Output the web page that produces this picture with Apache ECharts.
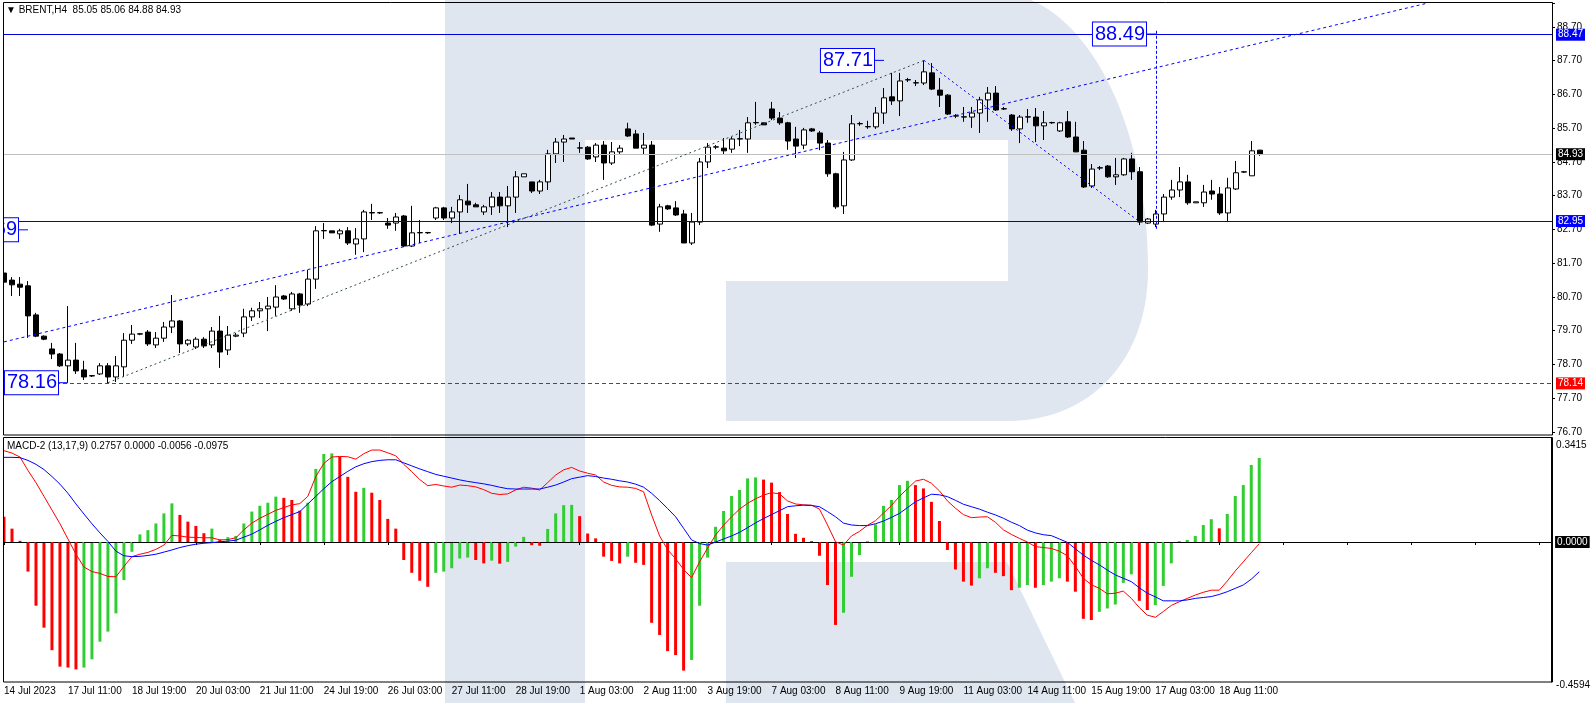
<!DOCTYPE html>
<html><head><meta charset="utf-8">
<script src="https://cdn.jsdelivr.net/npm/echarts/dist/echarts.min.js"></script>
<style>html,body{margin:0;padding:0;background:#fff;}#c{width:1593px;height:703px;}</style>
</head><body><div id="c"></div>
<script>
// ---------- DATA ----------
const opens = [81.41,81.20,81.08,81.03,80.17,79.54,79.16,79.01,78.66,78.83,
78.54,78.36,78.42,78.66,78.33,78.63,79.42,79.60,79.66,79.28,
79.48,79.81,79.99,79.31,79.22,79.45,79.28,79.69,79.13,79.54,
79.63,80.11,80.29,80.35,80.40,80.73,80.35,80.79,80.49,81.23,
82.66,82.66,82.57,82.66,82.27,82.42,83.20,83.19,82.89,82.89,
83.10,82.21,82.60,82.60,83.04,83.34,83.04,83.22,83.54,83.43,
83.22,83.37,83.66,83.40,83.66,84.26,84.11,83.84,84.11,84.94,
85.29,85.41,85.11,85.14,84.85,85.20,84.67,85.00,85.68,85.53,
85.11,85.20,82.86,83.40,83.34,83.16,82.30,82.92,84.70,85.14,
85.11,85.08,85.38,85.38,85.86,85.86,86.27,86.00,85.86,85.38,
85.20,85.68,85.56,85.26,84.35,83.40,84.76,85.83,85.74,85.74,
86.15,86.63,86.51,87.13,87.04,87.04,87.34,86.83,86.68,86.06,
86.03,86.03,86.15,86.54,86.74,86.27,86.09,85.68,86.03,86.03,
85.77,85.86,85.62,85.89,85.44,85.05,83.99,84.52,84.58,84.26,
84.32,84.79,84.41,82.89,82.86,83.16,83.66,83.87,84.11,83.49,
83.49,83.84,83.75,83.19,83.90,84.40,84.29,85.05];
const closes = [81.14,81.06,80.99,80.14,79.54,79.45,79.01,78.66,78.83,78.51,
78.33,78.37,78.66,78.33,78.66,79.42,79.60,79.61,79.31,79.48,
79.81,79.99,79.31,79.42,79.45,79.25,79.69,79.07,79.57,79.57,
80.11,80.29,80.35,80.43,80.70,80.64,80.79,80.46,81.23,82.66,
82.67,82.60,82.66,82.30,82.42,83.22,83.19,83.20,82.83,83.07,
82.21,82.60,82.61,82.61,83.34,83.04,83.22,83.58,83.43,83.37,
83.37,83.66,83.40,83.66,84.26,84.35,83.84,84.11,84.94,85.29,
85.38,85.38,85.12,84.79,85.20,84.67,85.00,85.11,85.47,85.11,
85.20,82.83,83.37,83.31,83.13,82.30,82.92,84.70,85.14,85.15,
85.03,85.38,85.39,85.86,85.87,85.80,86.00,85.86,85.32,85.17,
85.65,85.62,85.26,84.35,83.37,84.76,85.83,85.84,85.75,86.15,
86.60,86.51,87.10,87.14,87.05,87.37,86.86,86.68,86.12,86.07,
86.04,86.15,86.54,86.74,86.24,86.28,85.68,86.03,86.04,85.77,
85.86,85.87,85.86,85.44,85.00,83.96,84.49,84.53,84.26,84.32,
84.79,84.41,82.92,83.01,83.16,83.66,83.87,84.11,83.49,83.52,
83.81,83.75,83.19,83.93,84.38,84.41,85.03,84.93];
const lows = [81.10,80.73,80.73,79.49,79.51,79.42,78.86,78.63,78.16,78.42,
78.24,78.33,78.39,78.14,78.18,78.33,79.31,79.57,79.25,79.19,
79.37,79.63,79.04,79.25,79.16,79.19,79.19,78.60,78.98,79.51,
79.51,79.99,80.08,79.69,80.14,80.61,80.29,80.23,80.43,80.94,
82.42,82.60,82.42,82.24,81.95,82.03,82.98,83.16,82.72,82.66,
82.18,82.18,82.30,82.57,82.98,82.98,82.89,82.57,83.19,83.37,
83.13,83.13,83.19,82.77,83.19,84.26,83.78,83.75,83.87,84.67,
84.70,85.38,84.97,84.76,84.70,84.17,84.61,84.94,85.44,85.11,
84.91,82.80,82.63,83.28,83.10,82.30,82.24,82.83,84.52,85.08,
84.91,84.97,85.17,84.97,85.80,85.80,85.94,85.80,85.06,84.82,
85.08,85.59,85.05,84.26,83.31,83.16,84.73,85.77,85.68,85.68,
85.83,86.39,86.06,87.07,86.95,86.98,86.83,86.33,86.09,86.00,
85.89,85.71,85.56,85.89,86.21,86.24,85.62,85.26,85.86,85.29,
85.35,85.83,85.59,85.41,84.99,83.93,83.93,84.46,84.23,84.02,
84.29,84.17,82.83,82.86,82.77,82.92,83.58,83.66,83.43,83.49,
83.37,83.58,83.13,82.92,83.87,84.38,84.29,84.88];
const highs = [81.45,81.29,81.29,81.17,80.23,79.56,79.34,79.04,80.43,79.34,
78.81,78.39,78.74,78.74,78.95,79.63,79.87,79.63,79.72,79.66,
79.96,80.76,80.02,79.45,79.51,79.51,79.81,80.14,79.84,79.63,
80.35,80.38,80.55,80.70,81.05,80.76,80.85,80.82,81.50,82.80,
82.89,82.66,82.72,82.77,82.74,83.28,83.46,83.22,83.04,83.19,
83.13,83.40,82.98,82.63,83.37,83.37,83.37,83.72,84.05,83.49,
83.43,83.81,83.81,83.99,84.43,84.35,84.11,84.17,85.06,85.41,
85.50,85.41,85.29,85.17,85.26,85.32,85.29,85.20,85.86,85.65,
85.56,85.32,83.46,83.43,83.54,83.28,83.19,84.82,85.26,85.20,
85.41,85.44,85.65,86.03,86.48,85.86,86.48,86.18,85.89,85.74,
85.71,85.71,85.62,85.35,84.38,85.00,86.09,85.89,85.92,86.33,
86.89,87.34,87.34,87.19,87.13,87.71,87.63,87.19,86.71,86.12,
86.33,86.33,86.63,86.92,86.95,86.33,86.12,86.09,86.27,86.30,
86.21,85.89,85.89,86.21,85.89,85.32,84.64,84.58,84.61,84.82,
84.82,84.97,84.55,83.04,83.28,83.75,84.17,84.55,84.32,83.52,
84.02,84.17,83.96,84.23,84.73,84.43,85.32,85.06];

const histValues = [0.083,0.044,0.004,-0.097,-0.209,-0.281,-0.355,-0.409,-0.412,-0.418,
-0.412,-0.385,-0.327,-0.294,-0.234,-0.125,-0.032,0.025,0.039,0.061,
0.094,0.127,0.089,0.067,0.053,0.029,0.044,0.008,0.016,0.020,
0.061,0.100,0.119,0.129,0.149,0.145,0.138,0.103,0.129,0.240,
0.289,0.291,0.280,0.214,0.165,0.178,0.162,0.138,0.076,0.044,
-0.059,-0.101,-0.127,-0.147,-0.101,-0.097,-0.086,-0.054,-0.051,-0.059,
-0.070,-0.061,-0.071,-0.065,-0.015,0.017,-0.010,-0.012,0.043,0.094,
0.121,0.122,0.085,0.028,0.012,-0.048,-0.062,-0.070,-0.048,-0.068,
-0.075,-0.265,-0.305,-0.358,-0.371,-0.422,-0.387,-0.209,-0.051,0.050,
0.102,0.151,0.171,0.209,0.212,0.205,0.195,0.164,0.092,0.027,
0.014,0.003,-0.045,-0.141,-0.272,-0.232,-0.114,-0.043,0.003,0.058,
0.119,0.138,0.187,0.201,0.187,0.176,0.132,0.069,-0.026,-0.090,
-0.130,-0.143,-0.119,-0.086,-0.101,-0.112,-0.158,-0.150,-0.141,-0.150,
-0.141,-0.130,-0.119,-0.130,-0.163,-0.252,-0.256,-0.229,-0.218,-0.205,
-0.134,-0.106,-0.193,-0.223,-0.207,-0.144,-0.070,0.003,0.007,0.020,
0.056,0.075,0.045,0.092,0.151,0.187,0.253,0.2757];
const macdRed = [0.300,0.292,0.279,0.235,0.195,0.150,0.105,0.060,0.010,-0.040,
-0.082,-0.097,-0.103,-0.113,-0.114,-0.080,-0.048,-0.040,-0.034,-0.024,
-0.010,0.022,0.020,0.016,0.015,0.014,0.014,0.007,0.008,0.014,
0.040,0.062,0.078,0.091,0.104,0.113,0.122,0.126,0.150,0.215,
0.258,0.279,0.281,0.280,0.272,0.290,0.302,0.302,0.293,0.283,
0.255,0.231,0.205,0.185,0.189,0.184,0.180,0.187,0.185,0.181,
0.172,0.160,0.156,0.158,0.171,0.180,0.177,0.171,0.195,0.220,
0.237,0.245,0.233,0.226,0.220,0.197,0.186,0.181,0.180,0.176,
0.165,0.089,0.020,-0.025,-0.055,-0.090,-0.117,-0.065,-0.020,0.023,
0.055,0.083,0.108,0.127,0.142,0.154,0.162,0.158,0.135,0.125,
0.122,0.121,0.108,0.056,0.001,-0.010,0.020,0.035,0.055,0.070,
0.095,0.120,0.150,0.175,0.200,0.206,0.193,0.168,0.135,0.111,
0.090,0.080,0.082,0.083,0.065,0.040,0.025,0.012,0.000,-0.015,
-0.018,-0.021,-0.030,-0.045,-0.080,-0.119,-0.140,-0.152,-0.170,-0.168,
-0.161,-0.185,-0.215,-0.240,-0.247,-0.228,-0.208,-0.196,-0.185,-0.174,
-0.165,-0.158,-0.158,-0.128,-0.095,-0.065,-0.035,-0.0056];
const macdBlue = [0.278,0.278,0.277,0.268,0.255,0.238,0.215,0.190,0.160,0.125,
0.092,0.060,0.030,0.002,-0.030,-0.045,-0.048,-0.047,-0.044,-0.040,
-0.033,-0.026,-0.018,-0.012,-0.007,-0.004,-0.002,0.001,0.003,0.006,
0.016,0.026,0.040,0.055,0.068,0.080,0.090,0.100,0.125,0.150,
0.175,0.198,0.215,0.232,0.247,0.257,0.264,0.268,0.270,0.270,
0.260,0.250,0.240,0.231,0.222,0.216,0.210,0.204,0.199,0.195,
0.191,0.186,0.180,0.175,0.174,0.174,0.174,0.174,0.180,0.187,
0.197,0.208,0.213,0.218,0.215,0.210,0.206,0.201,0.197,0.190,
0.180,0.160,0.136,0.110,0.083,0.045,0.007,-0.005,-0.010,0.000,
0.010,0.020,0.032,0.047,0.063,0.077,0.090,0.103,0.116,0.119,
0.121,0.120,0.116,0.100,0.083,0.062,0.056,0.054,0.054,0.060,
0.069,0.081,0.094,0.113,0.132,0.145,0.157,0.155,0.149,0.137,
0.124,0.116,0.108,0.098,0.089,0.078,0.065,0.054,0.039,0.030,
0.024,0.021,0.010,-0.001,-0.022,-0.043,-0.060,-0.075,-0.092,-0.108,
-0.119,-0.130,-0.150,-0.168,-0.180,-0.193,-0.193,-0.193,-0.190,-0.185,
-0.182,-0.179,-0.172,-0.163,-0.152,-0.141,-0.122,-0.0975];

const timeLabels = ['14 Jul 2023','17 Jul 11:00','18 Jul 19:00','20 Jul 03:00','21 Jul 11:00',
'24 Jul 19:00','26 Jul 03:00','27 Jul 11:00','28 Jul 19:00','1 Aug 03:00','2 Aug 11:00',
'3 Aug 19:00','7 Aug 03:00','8 Aug 11:00','9 Aug 19:00','11 Aug 03:00','14 Aug 11:00',
'15 Aug 19:00','17 Aug 03:00','18 Aug 11:00'];
const priceTickLabels = ['76.70','77.70','78.70','79.70','80.70','81.70','82.70','83.70','84.70','85.70','86.70','87.70','88.70'];
const priceMin = 76.70, priceMax = 89.41;
const macdMin = -0.4594, macdMax = 0.3415;
const macdAxisLabels = ['-0.4594','0.3415'];
const levelPrices = [88.47, 84.93, 82.95, 78.14];
const trendUp = [0, 79.37, 178, 89.41];
const trendGray = [13, 78.16, 115, 87.71];
const trendDown = [115, 87.71, 142, 82.92];
const targetLine = [144, 82.72, 144, 88.64];
const annotBars = [110, 8, 144, 3];
const annotPrices = [87.71, 78.16, 88.49, 82.69];
const title = 'BRENT,H4  85.05 85.06 84.88 84.93';
const macdTitle = 'MACD-2 (13,17,9) 0.2757 0.0000 -0.0056 -0.0975';
const SLOTS = 194;

// ---------- BUILD ----------
const FONT = 'Liberation Sans, DejaVu Sans, Arial, sans-serif';
const BLUE = '#0000ff', RED = '#ff0000', GREEN = '#32cd32';
const cats = Array.from({length: SLOTS}, (_, i) => String(i));
const ohlc = opens.map((o, i) => [o, closes[i], lows[i], highs[i]]);
const histData = histValues.map((v, i) => ({
  value: v,
  itemStyle: {color: (i === 0 || v <= histValues[i - 1]) ? RED : GREEN}
}));

function boxLabel(text, bg) {
  return {show: true, position: 'end', distance: 4, formatter: text, color: '#fff',
    backgroundColor: bg, padding: [1, 2, 0, 2], fontSize: 10, fontFamily: FONT, lineHeight: 11};
}
function seg(arr, style) {
  return [{coord: [arr[0], arr[1]], lineStyle: style, label: {show: false}},
          {coord: [arr[2], arr[3]]}];
}
function annot(i) {
  return {
    coord: [annotBars[i], annotPrices[i]],
    symbol: 'rect', symbolSize: [10, 1], symbolOffset: [-5, 0],
    itemStyle: {color: BLUE},
    label: {show: true, position: 'left', distance: 0, formatter: annotPrices[i].toFixed(2),
      color: BLUE, fontSize: 20, fontFamily: FONT, backgroundColor: '#fff',
      borderColor: BLUE, borderWidth: 1, padding: [2, 1, 0, 2], lineHeight: 21}
  };
}
function cubic(p0, p1, p2, p3, n) {
  const pts = [];
  for (let k = 0; k <= n; k++) {
    const t = k / n, u = 1 - t;
    pts.push([u*u*u*p0[0] + 3*u*u*t*p1[0] + 3*u*t*t*p2[0] + t*t*t*p3[0],
              u*u*u*p0[1] + 3*u*u*t*p1[1] + 3*u*t*t*p2[1] + t*t*t*p3[1]]);
  }
  return pts;
}
const bowl = [[1008, 0]].concat(
  cubic([1031, 0], [1100, 30], [1148, 140], [1148, 270], 30),
  cubic([1148, 270], [1148, 360], [1090, 421], [1008, 421], 30));

const chart = echarts.init(document.getElementById('c'), null, {renderer: 'canvas'});
const WM = '#dfe6f0';
chart.setOption({
  animation: false,
  backgroundColor: '#ffffff',
  textStyle: {fontFamily: FONT},
  grid: [
    {left: 0, width: 1552, top: 3, height: 429, show: false, containLabel: false},
    {left: 0, width: 1552, top: 438, height: 244, show: false, containLabel: false}
  ],
  xAxis: [
    {type: 'category', gridIndex: 0, data: cats, boundaryGap: true,
     axisLine: {show: false}, axisTick: {show: false}, axisLabel: {show: false}, splitLine: {show: false}},
    {type: 'category', gridIndex: 1, data: cats, boundaryGap: true,
     axisLine: {show: true, lineStyle: {color: '#000', width: 1}},
     axisTick: {show: true, alignWithLabel: true, interval: 7, length: 3, lineStyle: {color: '#000'}},
     axisLabel: {show: true, interval: 7, align: 'left', margin: 4, color: '#000', fontSize: 10, fontFamily: FONT,
       formatter: (v, i) => (i % 8 === 0 && timeLabels[i / 8]) ? timeLabels[i / 8] : ''},
     splitLine: {show: false}}
  ],
  yAxis: [
    {type: 'value', gridIndex: 0, position: 'right', min: priceMin, max: priceMax, interval: 1,
     axisLine: {show: true, lineStyle: {color: '#000'}},
     axisTick: {show: true, length: 3, lineStyle: {color: '#000'}},
     axisLabel: {show: true, color: '#000', fontSize: 10, fontFamily: FONT, margin: 5,
       formatter: v => priceTickLabels.includes(v.toFixed(2)) ? v.toFixed(2) : ''},
     splitLine: {show: false}},
    {type: 'value', gridIndex: 1, position: 'right', min: macdMin, max: macdMax, interval: macdMax - macdMin,
     axisLine: {show: true, lineStyle: {color: '#000'}},
     axisTick: {show: false},
     axisLabel: {show: true, color: '#000', fontSize: 10, fontFamily: FONT, margin: 5,
       formatter: v => v > 0 ? '{t|' + macdAxisLabels[1] + '}' : '{b|' + macdAxisLabels[0] + '}',
       rich: {t: {padding: [14, 0, 0, 0], fontSize: 10, color: '#000'}, b: {padding: [6, 0, 0, 0], fontSize: 10, color: '#000'}}},
     splitLine: {show: false}}
  ],
  graphic: [
    {type: 'rect', z: -100, silent: true, shape: {x: 445, y: 0, width: 140, height: 703}, style: {fill: WM}},
    {type: 'rect', z: -100, silent: true, shape: {x: 585, y: 0, width: 424, height: 140}, style: {fill: WM}},
    {type: 'rect', z: -100, silent: true, shape: {x: 726, y: 281, width: 283, height: 140}, style: {fill: WM}},
    {type: 'polygon', z: -100, silent: true, shape: {points: bowl}, style: {fill: WM}},
    {type: 'polygon', z: -100, silent: true, shape: {points: [[726, 562], [1007, 562], [1075, 703], [726, 703]]}, style: {fill: WM}},
    // white margin left of the frames (clips marks like the terminal window does)
    {type: 'rect', z: 45, silent: true, shape: {x: 0, y: 0, width: 3.5, height: 683}, style: {fill: '#ffffff'}},
    {type: 'rect', z: 50, silent: true, shape: {x: 3.5, y: 2.5, width: 1549, height: 432.5}, style: {fill: null, stroke: '#000', lineWidth: 1}},
    {type: 'rect', z: 50, silent: true, shape: {x: 3.5, y: 437.5, width: 1549, height: 244.5}, style: {fill: null, stroke: '#000', lineWidth: 1}},
    {type: 'text', z: 60, left: 6, top: 5, style: {text: '\u25BC ' + title, fill: '#000', font: '10px ' + FONT}},
    {type: 'text', z: 60, left: 7, top: 441, style: {text: macdTitle, fill: '#000', font: '10px ' + FONT}}
  ],
  series: [
    {type: 'candlestick', xAxisIndex: 0, yAxisIndex: 0, data: ohlc, barWidth: 5,
     itemStyle: {color: '#ffffff', color0: '#000000', borderColor: '#000000', borderColor0: '#000000',
       borderColorDoji: '#000000', borderWidth: 1},
     markLine: {silent: true, symbol: ['none', 'none'], animation: false, precision: 2,
       data: [
         {yAxis: levelPrices[0], lineStyle: {color: '#0000dd', type: 'solid', width: 1}, label: boxLabel(levelPrices[0].toFixed(2), BLUE)},
         {yAxis: levelPrices[1], lineStyle: {color: '#c0c0c0', type: 'solid', width: 1}, label: boxLabel(levelPrices[1].toFixed(2), '#000000')},
         {yAxis: levelPrices[2], lineStyle: {color: '#0000dd', type: 'solid', width: 1}, label: boxLabel(levelPrices[2].toFixed(2), BLUE)},
         {yAxis: levelPrices[3], lineStyle: {color: RED, type: [4, 3], width: 1}, label: boxLabel(levelPrices[3].toFixed(2), RED)},
         seg(trendUp, {color: BLUE, type: [3, 3], width: 1}),
         seg(trendGray, {color: '#2f4f4f', type: [2, 3], width: 1}),
         seg(trendDown, {color: BLUE, type: [2, 3], width: 1}),
         seg(targetLine, {color: BLUE, type: [3, 2], width: 1})
       ]},
     markPoint: {silent: true, animation: false, data: [annot(0), annot(1), annot(2), annot(3)]}
    },
    {type: 'bar', xAxisIndex: 1, yAxisIndex: 1, data: histData, barWidth: 3,
     markLine: {silent: true, symbol: ['none', 'none'], animation: false,
       data: [{yAxis: 0, lineStyle: {color: '#000', type: [3, 3], width: 1}, label: boxLabel('0.0000', '#000000')}]}},
    {type: 'line', xAxisIndex: 1, yAxisIndex: 1, data: macdRed, symbol: 'none', z: 5,
     lineStyle: {color: RED, width: 1}},
    {type: 'line', xAxisIndex: 1, yAxisIndex: 1, data: macdBlue, symbol: 'none', z: 5,
     lineStyle: {color: BLUE, width: 1}}
  ]
});
</script>
</body></html>
